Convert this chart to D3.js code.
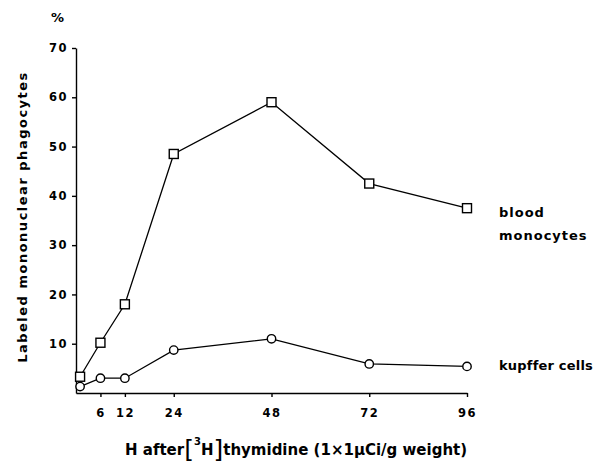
<!DOCTYPE html>
<meta charset="utf-8">
<style>
	body { margin: 0; background: #fff; }
	svg text { font-family: "DejaVu Sans", sans-serif; font-weight: bold; fill: #000; }
	.tick text { font-size: 11.5px; letter-spacing: 1.5px; }
	.domain, .tick line { stroke: #000; stroke-width: 1.4px; }
	.series { fill: none; stroke: #000; stroke-width: 1.3px; }
	.mark { fill: #fff; stroke: #000; stroke-width: 1.4px; }
</style>
<body>
<svg id="chart" width="600" height="464"></svg>
<script src="https://cdn.jsdelivr.net/npm/d3@7"></script>
<script>
	// hours after injection
	var hours = [1, 6, 12, 24, 48, 72, 96];
	// % labeled cells
	var monocytes = [3.3, 10.2, 18, 48.5, 59, 42.5, 37.5];
	var kupffer = [1.3, 3, 3, 8.7, 11, 5.9, 5.4];
	var xTicks = [6, 12, 24, 48, 72, 96];
	var yTicks = [10, 20, 30, 40, 50, 60, 70];

	var svg = d3.select("#chart");

	var x = d3.scaleLinear().domain([0, 96]).range([76, 467]);
	var y = d3.scaleLinear().domain([0, 70]).range([393, 48]);

	// axes
	var xAxis = d3.axisBottom(x).tickValues(xTicks).tickSize(4).tickSizeOuter(0).tickPadding(12);
	var yAxis = d3.axisLeft(y).tickValues(yTicks).tickSize(4).tickSizeOuter(0).tickPadding(4);

	svg.append("g").attr("transform", "translate(0," + y(0) + ")").call(xAxis);
	svg.append("g").attr("transform", "translate(" + x(0) + ",0)").call(yAxis);
	svg.selectAll(".tick text").attr("font-family", null).attr("font-size", null);

	var line = d3.line()
		.x(function(d, i) { return x(hours[i]); })
		.y(function(d) { return y(d); });

	svg.append("path").datum(monocytes).attr("class", "series").attr("d", line);
	svg.append("path").datum(kupffer).attr("class", "series").attr("d", line);

	svg.selectAll(".sq").data(monocytes).enter().append("rect")
		.attr("class", "mark")
		.attr("x", function(d, i) { return x(hours[i]) - 4.5; })
		.attr("y", function(d) { return y(d) - 4.5; })
		.attr("width", 9).attr("height", 9);

	svg.selectAll(".ci").data(kupffer).enter().append("circle")
		.attr("class", "mark")
		.attr("cx", function(d, i) { return x(hours[i]); })
		.attr("cy", function(d) { return y(d); })
		.attr("r", 4.2);

	// labels
	svg.append("text").attr("x", 51).attr("y", 22).style("font-size", "13px").text("%");

	svg.append("text")
		.attr("transform", "translate(27,217) rotate(-90)")
		.attr("text-anchor", "middle")
		.style("font-size", "13px").style("letter-spacing", "1.5px")
		.text("Labeled mononuclear phagocytes");

	var xl = svg.append("text").attr("x", 125).attr("y", 455)
		.style("font-size", "15px");
	xl.append("tspan").text("H after");
	xl.append("tspan").style("font-size", "25px").style("font-weight", "normal").attr("dy", 3).text("[");
	xl.append("tspan").style("font-size", "10px").attr("dy", -13).text("3");
	xl.append("tspan").attr("dy", 10).text("H");
	xl.append("tspan").style("font-size", "25px").style("font-weight", "normal").attr("dy", 3).text("]");
	xl.append("tspan").attr("dy", -3).text("thymidine (1\u00d71\u00b5Ci/g weight)");

	svg.append("text").attr("x", 499).attr("y", 217).style("font-size", "13px").style("letter-spacing", "1px").text("blood");
	svg.append("text").attr("x", 499).attr("y", 240).style("font-size", "13px").style("letter-spacing", "1px").text("monocytes");
	svg.append("text").attr("x", 499).attr("y", 370).style("font-size", "13px").style("letter-spacing", "0.2px").text("kupffer cells");
</script>
</body>
